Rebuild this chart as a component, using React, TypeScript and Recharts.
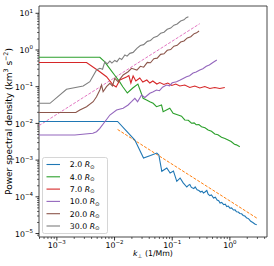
import React from 'react';
import { LineChart, Line, XAxis, YAxis, Legend, ReferenceArea } from 'recharts';

// ---- data (k in 1/Mm, power spectral density in km^3 s^-2) ----
const r2: [number, number][] = [
  [0.00049, 0.0113], [0.0113, 0.0113], [0.0225, 0.00353], [0.0318, 0.00114], [0.042, 0.00133],
  [0.0541, 0.00156], [0.0586, 0.00138], [0.066, 0.000495], [0.0806, 0.00061], [0.092, 0.000445],
  [0.105, 0.000505], [0.12, 0.000264], [0.137, 0.000325], [0.155, 0.00024], [0.179, 0.000185],
  [0.19, 0.000205], [0.202, 0.000216], [0.215, 0.00018], [0.237, 0.000168], [0.25, 0.000185],
  [0.27, 0.000155], [0.29, 0.000148], [0.31, 0.000135], [0.33, 0.000142], [0.348, 0.000127],
  [0.37, 0.000135], [0.398, 0.000149], [0.42, 0.000118], [0.45, 0.000108], [0.48, 0.000112],
  [0.52, 0.0000927], [0.56, 0.000098], [0.6, 0.000082], [0.64, 0.000078], [0.676, 0.0000678],
  [0.72, 0.00007], [0.78, 0.000061], [0.83, 0.000063], [0.883, 0.0000544], [0.94, 0.000056],
  [1.0, 0.000049], [1.07, 0.00005], [1.153, 0.0000437], [1.23, 0.000044], [1.3, 0.000039],
  [1.4, 0.0000385], [1.485, 0.0000351], [1.6, 0.0000345], [1.7, 0.000031], [1.82, 0.00003],
  [1.963, 0.0000264], [2.1, 0.0000255], [2.3, 0.0000215], [2.5, 0.00002], [2.7, 0.0000182],
  [2.92, 0.0000174],
];
const fit2: [number, number][] = [[0.0113, 0.00683], [2.92, 0.0000264]];
const r4: [number, number][] = [
  [0.00049, 0.632], [0.00556, 0.632], [0.00671, 0.48], [0.00819, 0.317], [0.01, 0.208],
  [0.0122, 0.137], [0.0139, 0.1], [0.01667, 0.0673], [0.0207, 0.092], [0.0254, 0.118],
  [0.0313, 0.0483], [0.0359, 0.0434], [0.0409, 0.039], [0.0467, 0.0353], [0.0534, 0.0285],
  [0.0653, 0.0317], [0.0696, 0.0208], [0.0908, 0.0258], [0.1037, 0.0188], [0.1266, 0.0169],
  [0.145, 0.0158], [0.165, 0.0124], [0.19, 0.0122], [0.216, 0.0101], [0.24, 0.0103],
  [0.26, 0.0092], [0.29, 0.0093], [0.322, 0.00813], [0.37, 0.0076], [0.419, 0.0066],
  [0.48, 0.0061], [0.547, 0.00514], [0.62, 0.0049], [0.715, 0.00418], [0.82, 0.0039],
  [0.931, 0.00353], [1.05, 0.0032], [1.2, 0.0027], [1.3, 0.0026], [1.485, 0.00232],
];
const r7: [number, number][] = [
  [0.00049, 0.456], [0.00327, 0.456], [0.00556, 0.256], [0.00726, 0.187], [0.00946, 0.111],
  [0.01066, 0.098], [0.01236, 0.152], [0.0161, 0.184], [0.0177, 0.2018], [0.0192, 0.126],
  [0.021, 0.196], [0.0234, 0.143], [0.0274, 0.1726], [0.0309, 0.134], [0.0363, 0.152],
  [0.0409, 0.126], [0.0461, 0.143], [0.0541, 0.1185], [0.061, 0.13], [0.0715, 0.1148],
  [0.0838, 0.126], [0.0984, 0.108], [0.1153, 0.1185], [0.1355, 0.1045], [0.165, 0.111],
  [0.2017, 0.095], [0.2463, 0.1045], [0.301, 0.092], [0.367, 0.101], [0.449, 0.0893],
  [0.547, 0.095], [0.668, 0.0893], [0.816, 0.095],
];
const r10: [number, number][] = [
  [0.00049, 0.00483], [0.00205, 0.00483], [0.00421, 0.00537], [0.00487, 0.00594], [0.00556, 0.00735],
  [0.00679, 0.0111], [0.0083, 0.0169], [0.01084, 0.0232], [0.0141, 0.0258], [0.0172, 0.0317],
  [0.0197, 0.039], [0.0225, 0.0483], [0.0251, 0.039], [0.0294, 0.0594], [0.0335, 0.0508],
  [0.0409, 0.066], [0.046, 0.072], [0.0534, 0.0813], [0.06, 0.078], [0.068, 0.097],
  [0.0796, 0.111], [0.09, 0.106], [0.1, 0.128], [0.1186, 0.137], [0.135, 0.15],
  [0.155, 0.168], [0.177, 0.187], [0.2, 0.2], [0.23, 0.235], [0.26, 0.25],
  [0.301, 0.285], [0.34, 0.31], [0.39, 0.36], [0.44, 0.39], [0.5, 0.45], [0.593, 0.534],
];
const r20: [number, number][] = [
  [0.00049, 0.0198], [0.00213, 0.0198], [0.0025, 0.0232], [0.00327, 0.0285], [0.00426, 0.039],
  [0.00487, 0.0534], [0.00556, 0.0813], [0.00595, 0.111], [0.00634, 0.073], [0.00726, 0.1],
  [0.0083, 0.124], [0.0092, 0.105], [0.0101, 0.169], [0.0115, 0.137], [0.0141, 0.208],
  [0.0172, 0.256], [0.0197, 0.317], [0.0244, 0.285], [0.028, 0.36], [0.032, 0.34],
  [0.037, 0.46], [0.042, 0.45], [0.048, 0.58], [0.055, 0.6], [0.063, 0.76],
  [0.072, 0.79], [0.082, 0.98], [0.094, 1.03], [0.107, 1.27], [0.122, 1.34],
  [0.14, 1.65], [0.16, 1.76], [0.183, 2.14], [0.21, 2.3], [0.24, 2.78], [0.265, 2.93], [0.292, 3.3],
];
const fit20: [number, number][] = [[0.00049, 0.0087], [0.3, 5.2]];
const r30: [number, number][] = [
  [0.00049, 0.0353], [0.00076, 0.0353], [0.00147, 0.085], [0.00286, 0.1045], [0.00373, 0.137],
  [0.00487, 0.285], [0.00556, 0.317], [0.0062, 0.3], [0.00679, 0.48], [0.0075, 0.42],
  [0.0083, 0.5], [0.009, 0.44], [0.0101, 0.52], [0.011, 0.48], [0.0122, 0.6],
  [0.0133, 0.55], [0.0151, 0.73], [0.0165, 0.68], [0.0184, 0.81], [0.021, 0.86],
  [0.0244, 1.11], [0.028, 1.32], [0.032, 1.4], [0.037, 1.72], [0.042, 1.82],
  [0.048, 2.2], [0.055, 2.36], [0.063, 2.86], [0.072, 3.05], [0.082, 3.68],
  [0.094, 3.96], [0.107, 4.75], [0.122, 5.1], [0.14, 6.15], [0.16, 6.62], [0.175, 7.6], [0.191, 8.1],
];

const seriesLabels = ['2.0', '4.0', '7.0', '10.0', '20.0', '30.0'];
const xMajorTicks = [0.001, 0.01, 0.1, 1];
const xMajorLabels = ['\u22123', '\u22122', '\u22121', '0'];
const yMajorTicks = [1e-5, 1e-4, 1e-3, 1e-2, 1e-1, 1, 10];
const yMajorLabels = ['\u22125', '\u22124', '\u22123', '\u22122', '\u22121', '0', '1'];

const xDomain: [number, number] = [0.00049, 4.4];
const yDomain: [number, number] = [8.04e-6, 15.8];

const FONT = 'DejaVu Sans';
const toPts = (a: [number, number][]) => a.map(([k, p]) => ({ k, p }));

const minorOf = (majors: number[], lo: number, hi: number) => {
  const out: number[] = [];
  const decades = [...majors.map((m) => m / 10), ...majors];
  decades.forEach((d) => {
    for (let m = 2; m <= 9; m++) {
      const v = +(m * d).toPrecision(6);
      if (v >= lo && v <= hi && !out.includes(v)) out.push(v);
    }
  });
  return out;
};
const xTicks = [...xMajorTicks, ...minorOf(xMajorTicks, xDomain[0], xDomain[1])].sort((a, b) => a - b);
const yTicks = [...yMajorTicks, ...minorOf(yMajorTicks, yDomain[0], yDomain[1])].sort((a, b) => a - b);

const isMajor = (v: number) => {
  const e = Math.log10(v);
  return Math.abs(e - Math.round(e)) < 1e-6;
};

const XTick = (props: any) => {
  const { x, y, payload } = props;
  const v = payload.value;
  const major = isMajor(v);
  const idx = xMajorTicks.findIndex((t) => Math.abs(Math.log10(t) - Math.log10(v)) < 1e-6);
  return (
    <g>
      <line x1={x} x2={x} y1={y} y2={y + (major ? 3.5 : 2)} stroke="#000" strokeWidth={major ? 0.8 : 0.6} />
      {major && idx >= 0 && (
        <text x={x} y={y + 10.8} textAnchor="middle" fontFamily={FONT} fontSize={7.8} fill="#000">
          <tspan>10</tspan>
          <tspan dy={-3.8} fontSize={5.5}>{xMajorLabels[idx]}</tspan>
        </text>
      )}
    </g>
  );
};

const YTick = (props: any) => {
  const { x, y, payload } = props;
  const v = payload.value;
  const major = isMajor(v);
  const idx = yMajorTicks.findIndex((t) => Math.abs(Math.log10(t) - Math.log10(v)) < 1e-6);
  return (
    <g>
      <line x1={x} x2={x - (major ? 3.5 : 2)} y1={y} y2={y} stroke="#000" strokeWidth={major ? 0.8 : 0.6} />
      {major && idx >= 0 && (
        <text x={x - 6} y={y + 3.2} textAnchor="end" fontFamily={FONT} fontSize={7.8} fill="#000">
          <tspan>10</tspan>
          <tspan dy={-3.8} fontSize={5.5}>{yMajorLabels[idx]}</tspan>
        </text>
      )}
    </g>
  );
};

const XLabel = () => (
  <text x={153} y={256} textAnchor="middle" fontFamily={FONT} fontSize={7.8} fill="#000">
    <tspan fontStyle="italic">k</tspan>
    <tspan fontSize={5.5} dy={1.6}>{'\u22a5'}</tspan>
    <tspan dy={-1.6}>{' (1/Mm)'}</tspan>
  </text>
);

const YLabel = () => (
  <text
    x={0}
    y={0}
    transform="translate(11.8,121.5) rotate(-90)"
    textAnchor="middle"
    fontFamily={FONT}
    fontSize={9}
    fill="#000"
  >
    <tspan>Power spectral density (km</tspan>
    <tspan fontSize={6.3} dy={-3.6}>3</tspan>
    <tspan dy={3.6}> s</tspan>
    <tspan fontSize={6.3} dy={-3.6}>{'\u22122'}</tspan>
    <tspan dy={3.6}>)</tspan>
  </text>
);

const lineColors = ['#1f77b4', '#2ca02c', '#d62728', '#9467bd', '#8c564b', '#7f7f7f'];

const LegendBox = () => (
  <svg width={66} height={77} style={{ display: 'block' }}>
    <rect x={0.5} y={0.5} width={65} height={76} rx={2} fill="#fff" fillOpacity={0.8} stroke="#cccccc" strokeWidth={0.8} />
    {seriesLabels.map((lab, i) => {
      const cy = 7.5 + i * 12.3;
      return (
        <g key={lab}>
          <line x1={4.5} x2={18} y1={cy} y2={cy} stroke={lineColors[i]} strokeWidth={1.1} />
          <text x={27.8} y={cy + 2.8} fontFamily={FONT} fontSize={7.8} fill="#000">
            <tspan>{lab} </tspan>
            <tspan fontStyle="italic">R</tspan>
            <tspan fontSize={5.5} dy={1.5}>{'\u2299'}</tspan>
          </text>
        </g>
      );
    })}
  </svg>
);

const series = [
  { name: seriesLabels[0], data: toPts(r2), color: lineColors[0] },
  { name: seriesLabels[1], data: toPts(r4), color: lineColors[1] },
  { name: seriesLabels[2], data: toPts(r7), color: lineColors[2] },
  { name: seriesLabels[3], data: toPts(r10), color: lineColors[3] },
  { name: seriesLabels[4], data: toPts(r20), color: lineColors[4] },
  { name: seriesLabels[5], data: toPts(r30), color: lineColors[5] },
];

export default function App() {
  return (
    <div style={{ position: 'absolute', left: 0, top: 0, width: 274, height: 266, background: '#fff' }}>
      <LineChart width={274} height={266} margin={{ top: 6, right: 7, bottom: 0, left: 0 }}>
        <XAxis
          dataKey="k"
          type="number"
          scale="log"
          domain={xDomain}
          allowDataOverflow
          ticks={xTicks}
          interval={0}
          tick={<XTick />}
          tickLine={false}
          tickSize={0}
          tickMargin={0}
          axisLine={false}
          height={29}
          label={<XLabel />}
        />
        <YAxis
          dataKey="p"
          type="number"
          scale="log"
          domain={yDomain}
          allowDataOverflow
          ticks={yTicks}
          interval={0}
          tick={<YTick />}
          tickLine={false}
          tickSize={0}
          tickMargin={0}
          axisLine={false}
          width={39}
          label={<YLabel />}
        />
        <ReferenceArea
          x1={xDomain[0]}
          x2={xDomain[1]}
          y1={yDomain[0]}
          y2={yDomain[1]}
          fill="none"
          fillOpacity={0}
          stroke="#333"
          strokeWidth={0.9}
          ifOverflow="visible"
        />
        <Line data={toPts(fit2)} dataKey="p" stroke="#ff7f0e" strokeWidth={1} strokeDasharray="3 1.5" dot={false} isAnimationActive={false} legendType="none" />
        <Line data={toPts(fit20)} dataKey="p" stroke="#e377c2" strokeWidth={1} strokeDasharray="3 1.5" dot={false} isAnimationActive={false} legendType="none" />
        {series.map((s) => (
          <Line
            key={s.name}
            data={s.data}
            dataKey="p"
            name={s.name}
            stroke={s.color}
            strokeWidth={1.1}
            dot={false}
            isAnimationActive={false}
          />
        ))}
        <Legend
          layout="vertical"
          align="center"
          verticalAlign="middle"
          wrapperStyle={{ left: 41.5, top: 157, width: 66, height: 77 }}
          content={() => <LegendBox />}
        />
      </LineChart>
    </div>
  );
}
